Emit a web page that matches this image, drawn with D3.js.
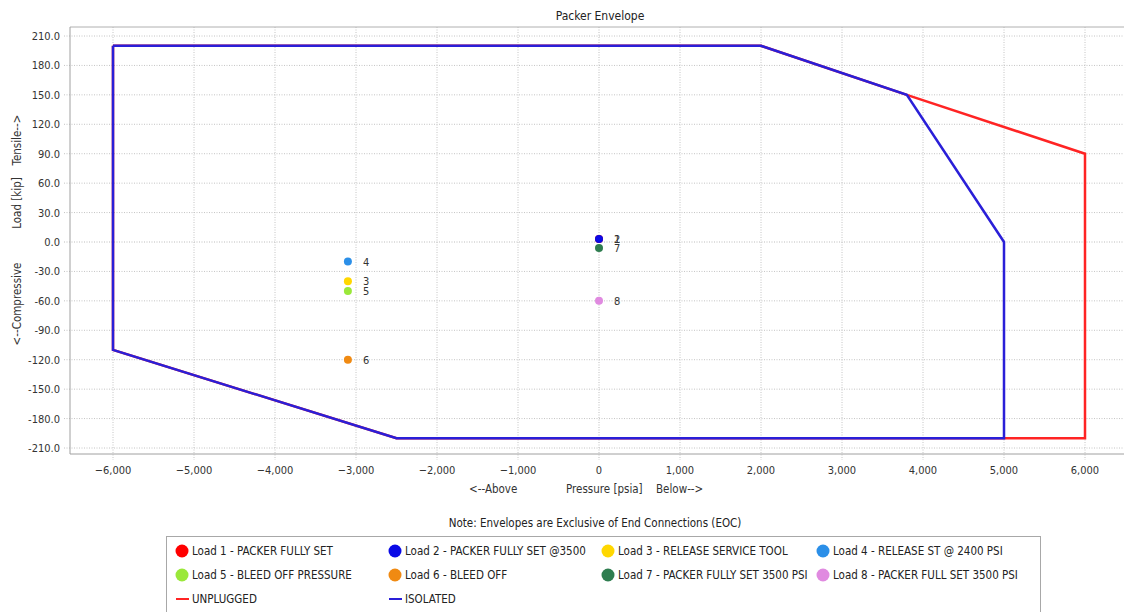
<!DOCTYPE html>
<html>
<head>
<meta charset="utf-8">
<script src="https://cdn.jsdelivr.net/npm/d3@7"></script>
<style>
  body{margin:0;background:#fff;}
  svg{display:block;font-family:Tahoma,"DejaVu Sans Condensed","Liberation Sans",sans-serif;}
  .grid line{stroke:#c4c4c4;stroke-dasharray:1,1.5;}
  .tick text{fill:#333;font-size:11px;}
</style>
</head>
<body>
<svg id="chart" width="1124" height="612"></svg>
<script>
// Envelope outlines (pressure psia, load kip)
const unplugged = [[-6000,200],[2000,200],[3800,150],[6000,90],[6000,-200],[-2500,-200],[-6000,-110],[-6000,200]];
const isolated  = [[-6000,200],[2000,200],[3800,150],[5000,0],[5000,-200],[-2500,-200],[-6000,-110],[-6000,200]];

// load points
const loadNames  = ['Load 1 - PACKER FULLY SET','Load 2 - PACKER FULLY SET @3500','Load 3 - RELEASE SERVICE TOOL','Load 4 - RELEASE ST @ 2400 PSI',
                    'Load 5 - BLEED OFF PRESSURE','Load 6 - BLEED OFF','Load 7 - PACKER FULLY SET 3500 PSI','Load 8 - PACKER FULL SET 3500 PSI'];
const loadPress  = [0, 0, -3100, -3100, -3100, -3100, 0, 0];
const loadForce  = [3, 3, -40, -20, -50, -120, -6, -60];
const loadColors = ['#ff0000','#0a0ae6','#ffd700','#2b8fe8','#9ae83a','#f08a12','#2e7d4f','#e08ae0'];

const xTicks = [-6000,-5000,-4000,-3000,-2000,-1000,0,1000,2000,3000,4000,5000,6000];
const yTicks = [210,180,150,120,90,60,30,0,-30,-60,-90,-120,-150,-180,-210];

const svg = d3.select('#chart');
const x = d3.scaleLinear().domain([-6000,6000]).range([113,1085]);
const y = d3.scaleLinear().domain([-210,210]).range([448,36]);
const L = 70, R = 1124, T = 27, B = 454;

// title
svg.append('text').attr('x',600).attr('y',20).attr('text-anchor','middle')
  .attr('font-size',12).attr('fill','#222').text('Packer Envelope');

// grid
const grid = svg.append('g').attr('class','grid');
grid.selectAll('line.v').data(xTicks).join('line').attr('class','v')
  .attr('x1',d=>x(d)).attr('x2',d=>x(d)).attr('y1',T).attr('y2',B+6)
  .style('stroke-dasharray',d=>d===0?null:'1,1.5').style('stroke',d=>d===0?'#bdbdbd':null);
grid.selectAll('line.h').data(yTicks).join('line').attr('class','h')
  .attr('x1',L-6).attr('x2',R).attr('y1',d=>y(d)).attr('y2',d=>y(d))
  .style('stroke-dasharray',d=>d===0?null:'1,1.5').style('stroke',d=>d===0?'#bdbdbd':null);

// frame
svg.append('line').attr('x1',L).attr('x2',R).attr('y1',T).attr('y2',T).attr('stroke','#b0b0b0');
svg.append('line').attr('x1',L).attr('x2',L).attr('y1',T).attr('y2',B).attr('stroke','#a0a0a0');
svg.append('line').attr('x1',L).attr('x2',R).attr('y1',B).attr('y2',B).attr('stroke','#a0a0a0');

// axes labels
const fmtX = d3.format(',');
svg.append('g').attr('class','tick').selectAll('text').data(xTicks).join('text')
  .attr('x',d=>x(d)).attr('y',474).attr('text-anchor','middle').text(d=>fmtX(d));
svg.append('g').attr('class','tick').selectAll('text').data(yTicks).join('text')
  .attr('x',60).attr('y',d=>y(d)+4).attr('text-anchor','end').text(d=>d.toFixed(1));

// axis titles
const xt = svg.append('g').attr('font-size',11.5).attr('fill','#333');
xt.append('text').attr('x',469).attr('y',493).text('<--Above');
xt.append('text').attr('x',566).attr('y',493).text('Pressure [psia]');
xt.append('text').attr('x',656).attr('y',493).text('Below-->');
const yt = svg.append('g').attr('font-size',11.5).attr('fill','#333');
[['<--Compressive',304],['Load [kip]',203],['Tensile-->',140]].forEach(([s,cy])=>{
  yt.append('text').attr('transform',`translate(21,${cy}) rotate(-90)`).attr('text-anchor','middle').text(s);
});

// envelopes
const line = d3.line().x(d=>x(d[0])).y(d=>y(d[1]));
svg.append('path').attr('d',line(unplugged)).attr('fill','none').attr('stroke','#ff2424').attr('stroke-width',2.5);
svg.append('path').attr('d',line(isolated)).attr('fill','none').attr('stroke','#2a1fd8').attr('stroke-width',2.5);

// points
const pts = svg.append('g');
loadNames.forEach((n,i)=>{
  pts.append('circle').attr('cx',x(loadPress[i])).attr('cy',y(loadForce[i])).attr('r',4).attr('fill',loadColors[i]);
  pts.append('text').attr('x',x(loadPress[i])+15).attr('y',y(loadForce[i])+4)
    .attr('font-size',11).attr('fill','#333').text(i+1);
});

// note + legend
svg.append('text').attr('x',595).attr('y',527).attr('text-anchor','middle')
  .attr('font-size',11.5).attr('fill','#222').text('Note: Envelopes are Exclusive of End Connections (EOC)');
svg.append('rect').attr('x',166.5).attr('y',536.5).attr('width',874).attr('height',90)
  .attr('fill','#fff').attr('stroke','#a8a8a8');
const colX = [182,395,608,823];
const rowY = [551,575,599];
const leg = svg.append('g').attr('font-size',11.5).attr('fill','#222');
loadNames.forEach((n,i)=>{
  const cx = colX[i%4], cy = rowY[Math.floor(i/4)];
  leg.append('circle').attr('cx',cx).attr('cy',cy).attr('r',6.5).attr('fill',loadColors[i]);
  leg.append('text').attr('x',cx+10).attr('y',cy+4).text(n);
});
[['UNPLUGGED','#ff2424'],['ISOLATED','#2a1fd8']].forEach(([n,c],i)=>{
  const cx = colX[i], cy = rowY[2];
  leg.append('line').attr('x1',cx-6).attr('x2',cx+7).attr('y1',cy).attr('y2',cy).attr('stroke',c).attr('stroke-width',2);
  leg.append('text').attr('x',cx+10).attr('y',cy+4).text(n);
});
</script>
</body>
</html>
